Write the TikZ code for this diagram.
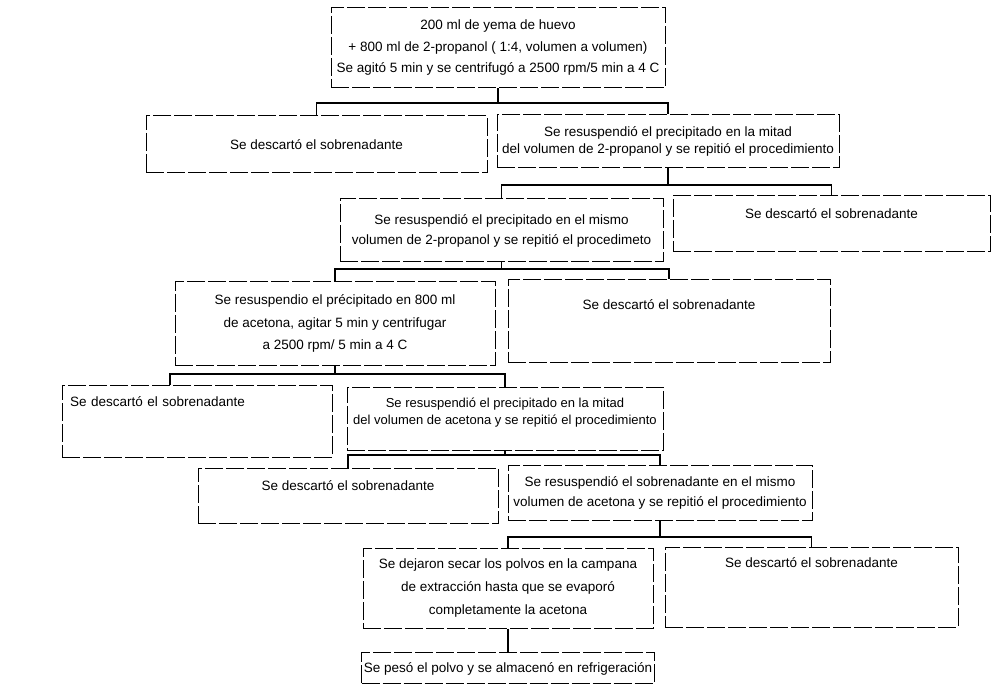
\documentclass[tikz,border=0pt]{standalone}
\usepackage{fontspec}
\setmainfont{Liberation Sans}
\usetikzlibrary{positioning}

\begin{document}
\begin{tikzpicture}[x=1pt,y=-1pt]
\tikzset{box/.style = {shape=rectangle,draw,line width=1pt,dash pattern=on 18pt off 3pt,
  align=center,inner sep=0pt,font=\fontsize{13.5}{20}\selectfont}}
\tikzset{edge/.style = {line width=1.3pt}}
\useasboundingbox (0,0) rectangle (998,684);
% boxes
\node[box,minimum width=334pt,minimum height=80pt,font=\fontsize{13.5}{21.5}\selectfont] (b1) at (498,48)
  {200 ml de yema de huevo\\+ 800 ml de 2-propanol ( 1:4, volumen a volumen)\\Se agitó 5 min y se centrifugó a 2500 rpm/5 min a 4 C};
\node[box,minimum width=341pt,minimum height=57pt] (b2L) at (316.5,144.5) {Se descartó el sobrenadante};
\node[box,minimum width=342pt,minimum height=53pt,font=\fontsize{13.5}{17}\selectfont] (b2R) at (668,141.5)
  {Se resuspendió el precipitado en la mitad\\del volumen de 2-propanol y se repitió el procedimiento};
\node[box,minimum width=323pt,minimum height=63pt] (b3L) at (501.5,230.5)
  {Se resuspendió el precipitado en el mismo\\volumen de 2-propanol y se repitió el procedimeto};
\node[box,minimum width=317pt,minimum height=56pt,text depth=20pt] (b3R) at (831.5,224) {Se descartó el sobrenadante};
\node[box,minimum width=320pt,minimum height=83pt,font=\fontsize{13.5}{22.5}\selectfont] (b4L) at (335,323.5)
  {Se resuspendio el précipitado en 800 ml\\de acetona, agitar 5 min y centrifugar\\a 2500 rpm/ 5 min a 4 C};
\node[box,minimum width=322pt,minimum height=82pt,text depth=32pt] (b4R) at (669,321) {Se descartó el sobrenadante};
\node[box,minimum width=270pt,minimum height=72pt,text depth=38pt,text width=254pt,inner xsep=8pt,align=left] (b5L) at (197,421)
  {Se descartó el sobrenadante};
\node[box,minimum width=316pt,minimum height=63pt,text depth=14pt,font=\fontsize{13}{17}\selectfont] (b5R) at (505,418.5)
  {Se resuspendió el precipitado en la mitad\\del volumen de acetona y se repitió el procedimiento};
\node[box,minimum width=300pt,minimum height=55pt,text depth=20pt] (b6L) at (348,495.5) {Se descartó el sobrenadante};
\node[box,minimum width=304pt,minimum height=55pt] (b6R) at (660,492.5)
  {Se resuspendió el sobrenadante en el mismo\\volumen de acetona y se repitió el procedimiento};
\node[box,minimum width=290pt,minimum height=80pt,font=\fontsize{13.5}{23}\selectfont] (b7L) at (508,588)
  {Se dejaron secar los polvos en la campana\\de extracción hasta que se evaporó\\completamente la acetona};
\node[box,minimum width=293pt,minimum height=80pt,text depth=48pt] (b7R) at (811.5,587) {Se descartó el sobrenadante};
\node[box,minimum width=293pt,minimum height=31pt,text height=12pt] (b8) at (508,667.5)
  {Se pesó el polvo y se almacenó en refrigeración};

% junctions
\coordinate (j1) at (498,103);
\coordinate (j2) at (668,185);
\coordinate (j3) at (501.5,269);
\coordinate (j4) at (335,374);
\coordinate (j5) at (505,455);
\coordinate (j6) at (660,537);
\coordinate (t5L) at ([xshift=-27pt]b5L.north);

% edges
\draw[edge] (b1.south) -- (j1);
\draw[edge] (b2L.north) |- (j1) -| (b2R.north);
\draw[edge] (b2R.south) -- (j2);
\draw[edge] (b3L.north) |- (j2) -| (b3R.north);
\draw[edge] (b3L.south) -- (j3);
\draw[edge] (b4L.north) |- (j3) -| (b4R.north);
\draw[edge] (b4L.south) -- (j4);
\draw[edge] (t5L) |- (j4) -| (b5R.north);
\draw[edge] (b5R.south) -- (j5);
\draw[edge] (b6L.north) |- (j5) -| (b6R.north);
\draw[edge] (b6R.south) -- (j6);
\draw[edge] (b7L.north) |- (j6) -| (b7R.north);
\draw[edge] (b7L.south) -- (b8.north);
\end{tikzpicture}
\end{document}
